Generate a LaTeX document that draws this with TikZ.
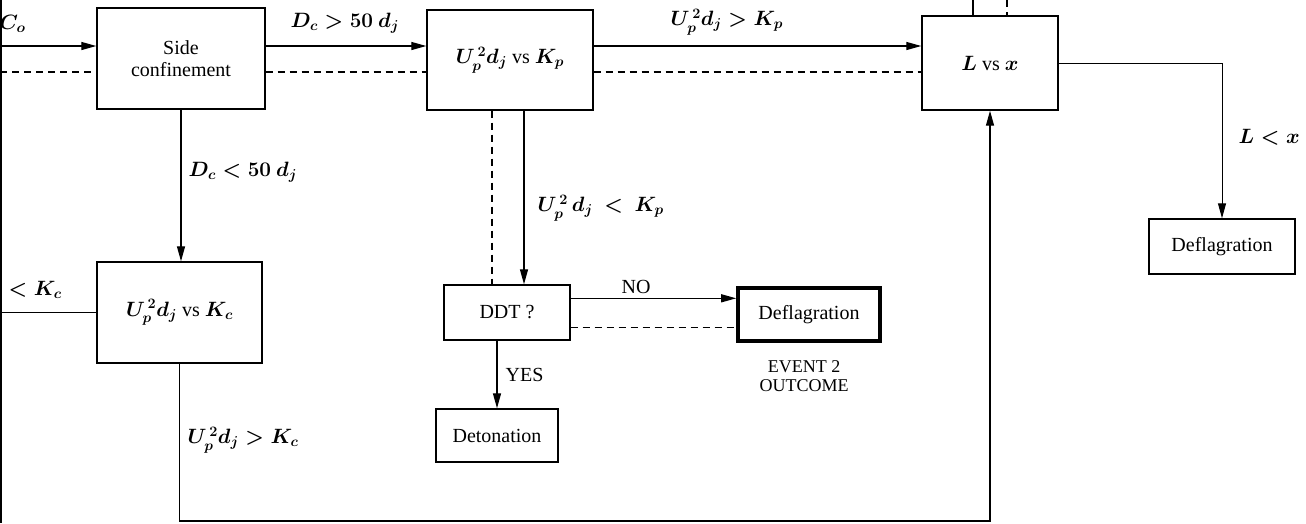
\documentclass[tikz,border=0pt]{standalone}
\usepackage{fontspec}
\setmainfont{Liberation Serif}
\usetikzlibrary{arrows.meta,calc}
\begin{document}
\begin{tikzpicture}[x=1pt,y=-1pt,
  font=\fontsize{20}{22}\selectfont\boldmath,
  line width=1.3pt,
  box/.style={draw, line width=1.4pt, inner sep=2pt, align=center},
  outbox/.style={box, line width=3.6pt},
  arr/.style={-{Triangle[length=15pt,width=8pt]}},
  dsh/.style={dash pattern=on 7pt off 5pt},
  lbl/.style={inner sep=0pt}]
\useasboundingbox (0,0) rectangle (1306,523);

% process boxes
\node[box, minimum width=168pt, minimum height=101pt] (side) at (181,58.5) {Side\\confinement};
\node[box, minimum width=166pt, minimum height=100pt] (kp) at (510,60) {$U_p^{\,2} d_j$ vs $K_p$};
\node[box, minimum width=136pt, minimum height=94pt] (lvx) at (990,63) {$L$ vs $x$};
\node[box, minimum width=165pt, minimum height=101pt] (kc) at (179.5,312.5) {$U_p^{\,2} d_j$ vs $K_c$};
\node[box, minimum width=126pt, minimum height=55pt] (ddt) at (507,312.5) {DDT ?};
\node[outbox, minimum width=142pt, minimum height=53pt] (defE) at (809,314.5) {Deflagration};
\node[box, minimum width=122pt, minimum height=53pt] (det) at (497,435.5) {Detonation};
\node[box, minimum width=146pt, minimum height=55pt] (defR) at (1222,246.5) {Deflagration};

% free ends and routing points
\coordinate (r1) at (0,46);
\coordinate (r2) at (0,72);
\coordinate (edgeTop) at (1,0);
\coordinate (edgeBot) at (1,523);
\coordinate (topS) at (973,0);
\coordinate (topD) at (1007,0);
\coordinate (botRow) at (0,521);
\coordinate (kpD) at ($(kp.south)+(-18,0)$);
\coordinate (kpS) at ($(kp.south)+(14,0)$);
\coordinate (ddtNo) at ($(ddt.north east)+(0,14)$);
\coordinate (ddtDash) at ($(ddt.south east)+(0,-13)$);

% left border line
\draw (edgeTop) -- (edgeBot);

% main solid path along the top
\draw[arr] (r1) -- (r1 -| side.west);
\draw[arr] (side.east |- r1) -- (kp.west |- r1);
\draw[arr] (kp.east |- r1) -- (lvx.west |- r1);

% dashed path along the top
\draw[dsh] (r2) -- (r2 -| side.west);
\draw[dsh] (side.east |- r2) -- (kp.west |- r2);
\draw[dsh] (kp.east |- r2) -- (lvx.west |- r2);

% lines leaving L vs x upwards
\draw (topS) -- (topS |- lvx.north);
\draw[dsh] (topD) -- (topD |- lvx.north);

% L vs x to the right-hand deflagration
\draw[arr, line width=1pt] (lvx.east) -| (defR.north);

% side confinement down to K_c test
\draw[arr] (side.south) -- (side.south |- kc.north);

% K_c test to the left border
\draw (kc.west) -- (kc.west -| edgeTop);

% K_c test round the bottom to L vs x
\draw[arr] (kc.south) -- (kc.south |- botRow) -| (lvx.south);

% K_p test down to DDT
\draw[dsh] (kpD) -- (kpD |- ddt.north);
\draw[arr] (kpS) -- (kpS |- ddt.north);

% DDT outcomes
\draw[arr] (ddtNo) -- (ddtNo -| defE.west);
\draw[dsh] (ddtDash) -- (ddtDash -| defE.west);
\draw[arr] (ddt.south -| det.north) -- (det.north);

% condition labels
\node[lbl, anchor=west] (lC) at (-1,24) {$C_o$};
\node[lbl, anchor=west] (lD1) at (290,23) {$D_c > 50\ d_j$};
\node[lbl, anchor=west] (lP1) at (670,22) {$U_p^{\,2} d_j > K_p$};
\node[lbl, anchor=west] (lD2) at (188,172) {$D_c < 50\ d_j$};
\node[lbl, anchor=west] (lP2) at (537,208) {$U_p^{\,2}\, d_j\ <\ K_p$};
\node[lbl, anchor=west] (lK1) at (8,290) {$< K_c$};
\node[lbl, anchor=west] (lK2) at (187,440) {$U_p^{\,2} d_j > K_c$};
\node[lbl, anchor=west] (lL) at (1238,137) {$L < x$};
\node[lbl] (lNO) at (636,287) {NO};
\node[lbl, anchor=west] (lYES) at (505,375) {YES};
\node[lbl, align=center, font=\fontsize{18}{19}\selectfont] (lEv) at (804,376) {EVENT 2\\OUTCOME};
\end{tikzpicture}
\end{document}
